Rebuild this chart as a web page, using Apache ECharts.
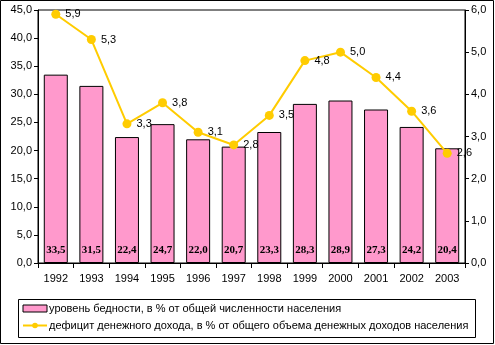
<!DOCTYPE html>
<html>
<head>
<meta charset="utf-8">
<script src="https://cdn.jsdelivr.net/npm/echarts@6/dist/echarts.min.js"></script>
<style>
  html, body { margin: 0; padding: 0; background: #fff; }
  #chart { width: 495px; height: 345px; }
</style>
</head>
<body>
<div id="chart"></div>
<script>
// Years shown on the category axis
const years = ['1992', '1993', '1994', '1995', '1996', '1997', '1998', '1999', '2000', '2001', '2002', '2003'];
// Poverty level, % of total population (left axis)
const povertyLevel = [33.5, 31.5, 22.4, 24.7, 22.0, 20.7, 23.3, 28.3, 28.9, 27.3, 24.2, 20.4];
// Money income deficit, % of total money income (right axis)
const incomeDeficit = [5.9, 5.3, 3.3, 3.8, 3.1, 2.8, 3.5, 4.8, 5.0, 4.4, 3.6, 2.6];

const barName = 'уровень бедности, в % от общей численности населения';
const lineName = 'дефицит денежного дохода, в % от общего объема денежных доходов населения';

const fmt = v => v.toFixed(1).replace('.', ',');

const chart = echarts.init(document.getElementById('chart'), null, { renderer: 'canvas' });
chart.setOption({
  animation: false,
  backgroundColor: '#fff',
  textStyle: { fontFamily: 'Liberation Sans, Arial, sans-serif' },
  grid: {
    left: 38, top: 10, right: 30, bottom: 82,
    show: true, borderColor: '#000', borderWidth: 1, backgroundColor: 'transparent'
  },
  graphic: [
    { type: 'rect', shape: { x: 0.5, y: 0.5, width: 493, height: 343 },
      style: { fill: 'none', stroke: '#000', lineWidth: 1 }, silent: true },
    { type: 'rect', shape: { x: 18.5, y: 299.5, width: 457, height: 38 },
      style: { fill: 'none', stroke: '#000', lineWidth: 1 }, silent: true }
  ],
  legend: {
    orient: 'vertical',
    left: 22, top: 303,
    itemGap: 6,
    itemWidth: 24, itemHeight: 7,
    padding: 0,
    textStyle: { fontSize: 11, color: '#000', padding: [0, 0, 0, -3] },
    data: [
      { name: barName, icon: 'rect', itemStyle: { borderColor: '#000', borderWidth: 1 } },
      { name: lineName }
    ]
  },
  xAxis: {
    type: 'category',
    data: years,
    axisLine: { lineStyle: { color: '#000' } },
    axisTick: { show: true, length: 5, lineStyle: { color: '#000' } },
    axisLabel: { color: '#000', fontSize: 11, margin: 10 }
  },
  yAxis: [
    {
      type: 'value', min: 0, max: 45, interval: 5,
      axisLine: { show: true, lineStyle: { color: '#000' } },
      axisTick: { show: true, length: 4, lineStyle: { color: '#000' } },
      splitLine: { show: false },
      axisLabel: { color: '#000', fontSize: 11, margin: 6, formatter: fmt }
    },
    {
      type: 'value', min: 0, max: 6, interval: 1,
      axisLine: { show: true, lineStyle: { color: '#000' } },
      axisTick: { show: true, length: 4, lineStyle: { color: '#000' } },
      splitLine: { show: false },
      axisLabel: { color: '#000', fontSize: 11, margin: 6, formatter: fmt }
    }
  ],
  series: [
    {
      name: barName,
      type: 'bar',
      yAxisIndex: 0,
      data: povertyLevel,
      barWidth: 24,
      itemStyle: { color: '#FF99CC', borderColor: '#000', borderWidth: 1 },
      label: {
        show: true,
        position: 'insideBottom',
        distance: 7,
        formatter: p => fmt(p.value),
        fontFamily: 'Liberation Serif, Times New Roman, serif',
        fontWeight: 'bold',
        fontSize: 11,
        color: '#000'
      }
    },
    {
      name: lineName,
      type: 'line',
      yAxisIndex: 1,
      data: incomeDeficit,
      symbol: 'circle',
      symbolSize: 9,
      lineStyle: { color: '#FFCC00', width: 2 },
      itemStyle: { color: '#FFCC00' },
      label: {
        show: true,
        position: 'right',
        distance: 5,
        formatter: p => fmt(p.value),
        fontSize: 11,
        color: '#000'
      },
      z: 3
    }
  ]
});
</script>
</body>
</html>
